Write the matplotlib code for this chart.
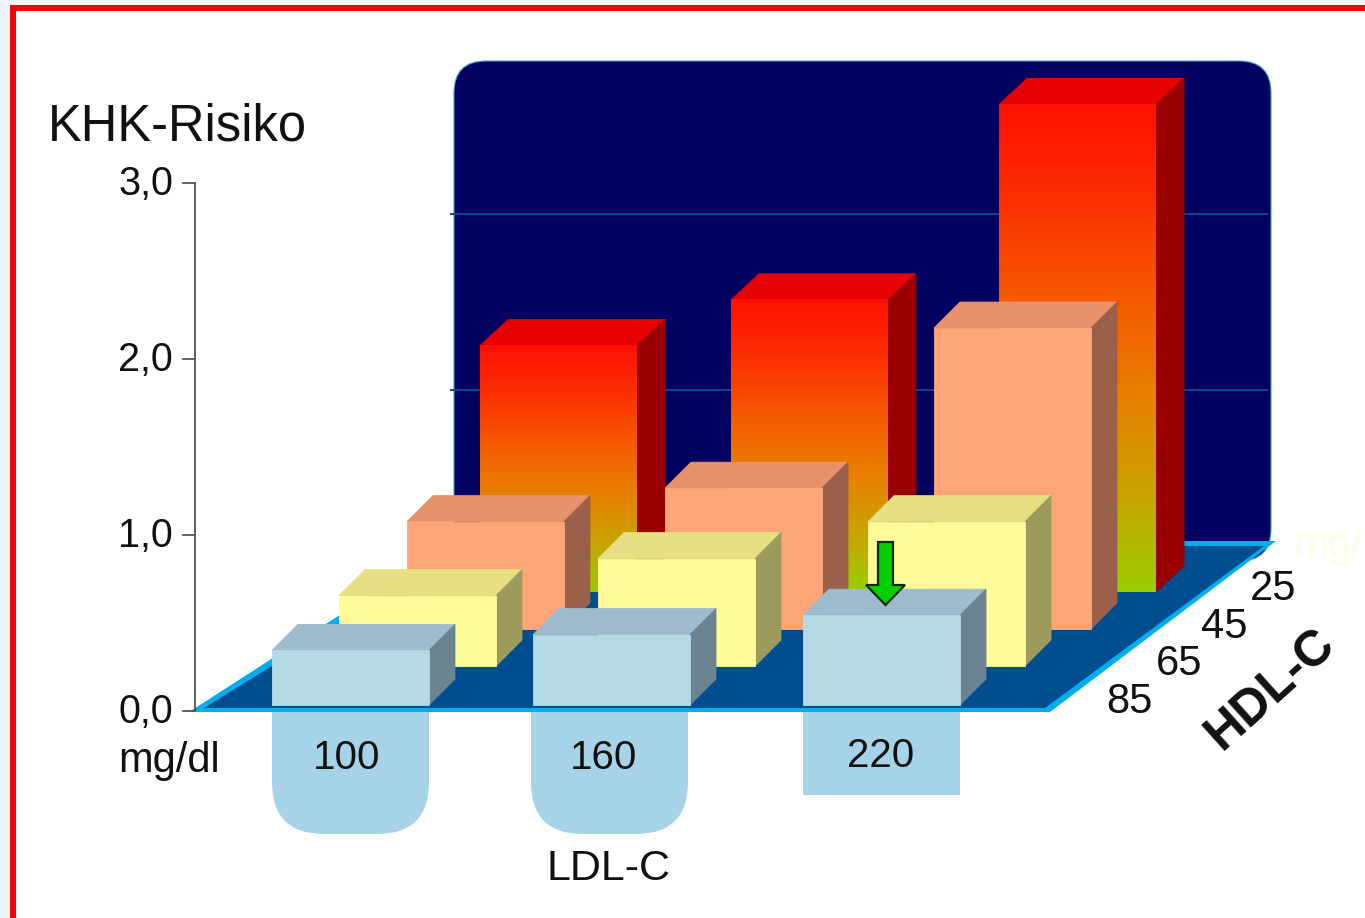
import numpy as np
import matplotlib
matplotlib.use("Agg")
import matplotlib.pyplot as plt
from matplotlib.patches import Polygon, Rectangle, FancyBboxPatch
from matplotlib.colors import LinearSegmentedColormap

plt.rcParams['font.family'] = ['Liberation Sans', 'DejaVu Sans']

# ---- data ----
ldl_labels = ["100", "160", "220"]
hdl_labels = ["25", "45", "65", "85"]
risk_hdl25 = [1.40, 1.66, 2.77]
risk_hdl45 = [0.61, 0.80, 1.71]
risk_hdl65 = [0.40, 0.61, 0.82]
risk_hdl85 = [0.31, 0.40, 0.51]
y_ticks = [0.0, 1.0, 2.0, 3.0]
y_tick_labels = ["0,0", "1,0", "2,0", "3,0"]

# ---- layout (pixels) ----
W, H = 1365, 918
PX_PER_UNIT = 176.0
AXIS_ZERO = 711
WALL_ZERO = 565.5
BAR_W = 157
DEPTH_Y = 26
row_depth_x = [28, 26, 26, 26]
row_base = [592, 629, 666, 705]
row_left = [[480, 731, 999], [407, 665, 934], [339, 598, 868], [272, 533, 803]]
row_values = [risk_hdl25, risk_hdl45, risk_hdl65, risk_hdl85]
row_colors = [
    (None, "#e60000", "#9b0000"),
    ("#ffa679", "#e8926c", "#9a6049"),
    ("#fffb99", "#e6e082", "#9c9a5c"),
    ("#b5dae5", "#9ebccd", "#6c8390"),
]
grad = LinearSegmentedColormap.from_list(
    "risk", ["#ff1000", "#fb3000", "#f55a00", "#e88000", "#c8a400", "#9acd00"])

fig = plt.figure(figsize=(W / 100, H / 100), dpi=100, facecolor="white")
ax = fig.add_axes([0, 0, 1, 1])
ax.set_xlim(0, W)
ax.set_ylim(H, 0)
ax.axis("off")

# page background and red frame
ax.add_patch(Rectangle((0, 0), 10, H, fc="#eef5f8", ec="none", zorder=0))
ax.add_patch(Rectangle((0, 0), W, 5, fc="#f4f8fa", ec="none", zorder=0))
ax.add_patch(Rectangle((10, 5), 6, H, fc="#ff0000", ec="none", zorder=1))
ax.add_patch(Rectangle((10, 5), W, 5.5, fc="#ff0000", ec="none", zorder=1))

# LDL label tabs
tab_color = "#a6d3e8"
for i, left in enumerate(row_left[3]):
    if i < 2:
        x0 = left if i == 0 else left - 2
        ax.add_patch(FancyBboxPatch((x0, 660), BAR_W, 174,
                     boxstyle="round,pad=0,rounding_size=52", fc=tab_color, ec="none", zorder=2))
    else:
        ax.add_patch(Rectangle((left, 700), BAR_W, 95, fc=tab_color, ec="none", zorder=2))

# back wall
ax.add_patch(FancyBboxPatch((454, 61), 817, 500, boxstyle="round,pad=0,rounding_size=32",
             fc="#000060", ec="#3f9fd0", lw=0.8, zorder=3))
for v in y_ticks[1:3]:
    yy = WALL_ZERO - v * PX_PER_UNIT
    ax.plot([450, 1268], [yy, yy], color="#0a4a8c", lw=1.4, zorder=4, solid_capstyle="butt")

# floor
ax.add_patch(Polygon([(189, 712), (1050, 712), (1276, 541), (455, 541)], fc="#00aeef", ec="none", zorder=5))
ax.add_patch(Polygon([(204, 708), (1045, 708), (1264, 546), (466, 546)], fc="#004d90", ec="none", zorder=6))

# bars, back to front
z = 10
for vals, base, lefts, cols, dx in zip(row_values, row_base, row_left, row_colors, row_depth_x):
    for v, left in zip(vals, lefts):
        top = base - v * PX_PER_UNIT
        right = left + BAR_W
        ff, ft, fs = cols
        ax.add_patch(Polygon([(left, top), (right, top), (right + dx, top - DEPTH_Y), (left + dx, top - DEPTH_Y)],
                             fc=ft, ec=ft, lw=0.6, zorder=z))
        ax.add_patch(Polygon([(right, top), (right + dx, top - DEPTH_Y), (right + dx, base - DEPTH_Y), (right, base)],
                             fc=fs, ec=fs, lw=0.6, zorder=z))
        if ff is None:
            g = np.linspace(0, 1, 256).reshape(-1, 1)
            ax.imshow(g, cmap=grad, extent=(left, right, base, top), aspect="auto",
                      interpolation="bilinear", zorder=z + 0.5)
        else:
            ax.add_patch(Rectangle((left, top), BAR_W, base - top, fc=ff, ec=ff, lw=0.6, zorder=z + 0.5))
        z += 1
ax.set_xlim(0, W)
ax.set_ylim(H, 0)

# arrow
ax.add_patch(Polygon([(878, 542), (893, 542), (893, 585), (905, 585), (885.5, 605), (866, 585), (878, 585)],
                     fc="#00d000", ec="#0b2a0b", lw=1.6, zorder=60, joinstyle="miter"))

# y axis
ax.plot([195, 195], [AXIS_ZERO - 3 * PX_PER_UNIT, AXIS_ZERO], color="#555555", lw=1.3, zorder=7)
txt = "#111111"
for v, lab in zip(y_ticks, y_tick_labels):
    yy = AXIS_ZERO - v * PX_PER_UNIT
    ax.plot([183, 195], [yy, yy], color="#555555", lw=1.3, zorder=7)
    ax.text(173, yy + 1, lab, ha="right", va="center", fontsize=28.5, color=txt, zorder=70)

ax.text(48, 127, "KHK-Risiko", ha="left", va="center", fontsize=36.5, color=txt, zorder=70)
ax.text(118, 761, "mg/dl", ha="left", va="center", fontsize=30, color=txt, zorder=70)
ax.text(609, 869, "LDL-C", ha="center", va="center", fontsize=31, color=txt, zorder=70)
ax.text(1293, 546, "mg/", ha="left", va="center", fontsize=30, color="#fffde6", zorder=70)

for lab, xx, yy in zip(ldl_labels, [347, 604, 881], [758, 758, 756]):
    ax.text(xx, yy, lab, ha="center", va="center", fontsize=29, color=txt, zorder=70)
for lab, xx, yy in zip(hdl_labels, [1273, 1224, 1179, 1129], [589, 627, 664, 702]):
    ax.text(xx, yy, lab, ha="center", va="center", fontsize=30, color=txt, zorder=70)
ax.text(1271, 689, "HDL-C", ha="center", va="center", fontsize=36, fontweight="bold",
        rotation=42, rotation_mode="anchor", color=txt, zorder=70)

fig.savefig("out.png", dpi=100, facecolor="white")
